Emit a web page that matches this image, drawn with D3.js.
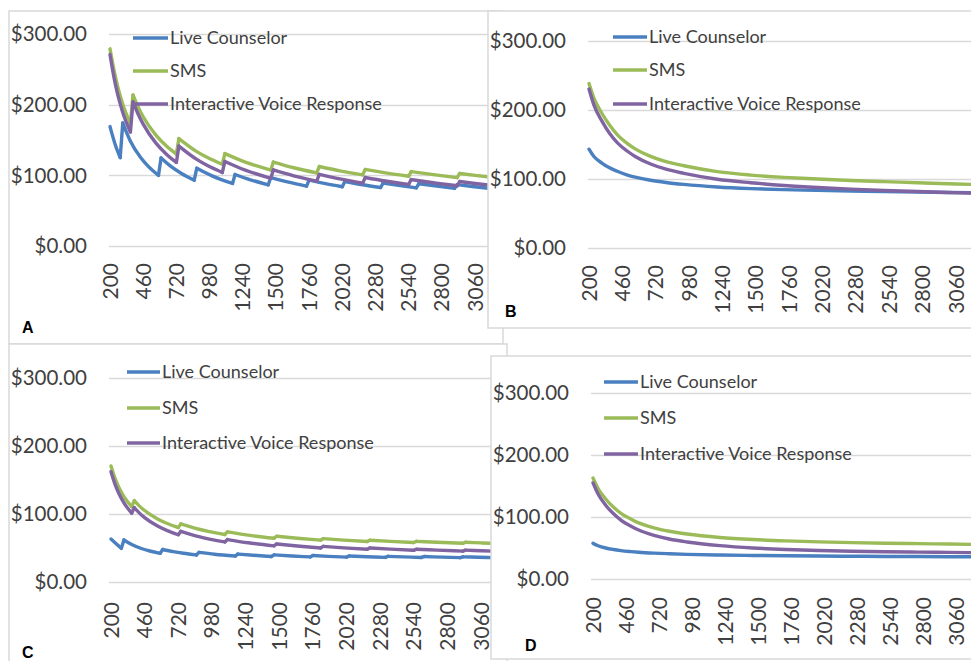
<!DOCTYPE html>
<html>
<head>
<meta charset="utf-8">
<script src="https://cdn.jsdelivr.net/npm/d3@7"></script>
<style>
  body { margin: 0; background: #fff; }
  svg { display: block; font-family: Lato, "Open Sans", sans-serif; }
</style>
</head>
<body>
<svg id="chart" width="971" height="661"></svg>
<script>
// axis ticks
const xTicks = [200, 460, 720, 980, 1240, 1500, 1760, 2020, 2280, 2540, 2800, 3060];
const yTicks = [0, 100, 200, 300];
const seriesNames = ["Live Counselor", "SMS", "Interactive Voice Response"];
const seriesColors = ["#4a7fc0", "#9bbb59", "#8064a2"];

// users (x) for the step charts A and C
const liveStepX = [200, 240, 280, 300, 360, 440, 500, 580, 600, 680, 760, 860, 880, 1000, 1160, 1180, 1300, 1440,
  1460, 1600, 1740, 1760, 1880, 2020, 2040, 2180, 2320, 2340, 2460, 2600, 2620, 2760, 2900, 2920, 3040, 3200];
const otherStepX = [200, 230, 260, 300, 360, 380, 420, 460, 560, 640, 720, 740, 880, 960, 1080, 1100, 1260, 1460,
  1480, 1640, 1820, 1840, 2000, 2180, 2200, 2360, 2540, 2560, 2720, 2920, 2940, 3060, 3200];
// users (x) for the smooth charts B and D
const smoothX = [200, 240, 300, 360, 420, 500, 560, 680, 800, 940, 1200, 1460, 1720, 1980, 2240, 2500, 2760, 3000, 3180];

// A
const aLive = [169, 144, 125, 174, 148.4, 125.2, 112.7, 100, 124.6, 112.3, 102.7, 93.2, 110.1, 99.3, 88.5, 101.2, 93.7, 86.6,
  96.9, 90.3, 84.7, 93.2, 88.6, 83.9, 91.3, 86.7, 82.7, 89.2, 85.9, 82.3, 88.1, 84.7, 81.6, 86.8, 84.2, 81];
const aSms = [279, 250, 225.8, 200.6, 173.3, 213.7, 196.8, 182.9, 156.8, 141.7, 130.1, 152, 133.6, 125.6, 115.7, 130.7, 118.7, 107.5,
  118.8, 110.7, 103.4, 112.5, 106.4, 100.7, 108.3, 103.5, 98.7, 105.3, 101.3, 96.8, 102.6, 100, 97.2];
const aIvr = [271, 239.7, 214.6, 189, 161.3, 204, 186.7, 172.4, 145.6, 130.3, 118.3, 141.4, 122.5, 114.1, 104, 119.7, 107.4, 95.8,
  107.6, 99.3, 91.7, 101.3, 95, 89, 97, 92, 87.1, 94, 89.8, 85.2, 91.2, 88.5, 85.6];

// B
const bLive = [143, 132, 123, 116, 111, 105.5, 102.5, 98, 94.8, 92, 88.3, 86, 84.5, 83.4, 82.5, 81.7, 81, 80.4, 80];
const bSms = [238, 216, 195, 178, 164, 151, 143.5, 132.5, 125, 119, 110.5, 105.5, 102.2, 99.8, 97.6, 96, 94.5, 93, 92];
const bIvr = [230, 206, 184, 166, 152.5, 140, 132.5, 121.5, 114, 108, 99.5, 94.5, 90.5, 87.5, 85.2, 83.3, 81.7, 80.4, 79.5];

// C
const cLive = [63.2, 56.2, 49.5, 61.8, 55, 48.9, 45.6, 42.2, 47.8, 44.7, 42.2, 39.8, 43.6, 40.9, 38.2, 41.1, 39.3, 37.5,
  39.9, 38.3, 36.9, 38.9, 37.7, 36.6, 38.3, 37.2, 36.2, 37.7, 36.9, 36.1, 37.4, 36.6, 35.8, 37, 36.4, 35.6];
const cSms = [170.6, 153, 139.5, 125.7, 110.8, 119.6, 111.6, 105.1, 92.7, 85.6, 80.1, 85.5, 77.6, 74.2, 69.9, 73.7, 68.9, 64.4,
  67.3, 64.3, 61.5, 63.8, 61.6, 59.5, 61.5, 59.8, 58.1, 59.8, 58.4, 56.9, 58.4, 57.5, 56.6];
const cIvr = [162.3, 144.4, 130.6, 116.5, 101.3, 109.3, 101.3, 94.6, 82.2, 75.1, 69.5, 74.5, 66.6, 63.1, 58.9, 62.4, 57.7, 53.2,
  55.9, 52.9, 50.1, 52.4, 50.2, 48.1, 50, 48.3, 46.6, 48.2, 46.9, 45.4, 46.8, 45.9, 45];

// D
const dLive = [57.5, 53.7, 50, 47.6, 45.8, 44.2, 43.2, 41.8, 40.8, 39.8, 38.7, 38, 37.4, 37, 36.7, 36.4, 36.2, 36, 35.9];
const dSms = [163, 146, 129, 116, 106, 96.5, 90.5, 82.5, 77, 72.5, 67, 63.7, 61.5, 59.9, 58.7, 57.7, 57, 56.4, 55.9];
const dIvr = [155, 137, 119, 105.5, 95, 85, 79, 70.5, 64.5, 59.7, 53.8, 50, 47.6, 46, 44.8, 44, 43.4, 42.9, 42.5];

const svg = d3.select("#chart");
const money = d3.format("$.2f");

// panels, in drawing order (B covers the right side of A, D covers C)
const panels = [
  { id: "A", box: [9, 11, 494, 333], x200: 110, x3060: 475, y0: 246, y300: 34, left: 109, labelRight: 87, xLabTop: 263,
    leg: [133, 168, 170, [38, 71, 104]], letter: [22, 333],
    series: [[liveStepX, aLive], [otherStepX, aSms], [otherStepX, aIvr]] },
  { id: "C", box: [9, 344, 498, 330], x200: 111, x3060: 481, y0: 582, y300: 378, left: 109, labelRight: 87, xLabTop: 602,
    leg: [127, 160, 162, [372, 408, 443]], letter: [22, 658],
    series: [[liveStepX, cLive], [otherStepX, cSms], [otherStepX, cIvr]] },
  { id: "B", box: [488, 11, 500, 317], x200: 589, x3060: 956, y0: 248, y300: 40.7, left: 588, labelRight: 566, xLabTop: 265,
    leg: [613, 647, 649, [37, 70, 104]], letter: [505, 317],
    series: [[smoothX, bLive], [smoothX, bSms], [smoothX, bIvr]] },
  { id: "D", box: [491, 356, 500, 303], x200: 593, x3060: 956, y0: 579, y300: 393, left: 591, labelRight: 569, xLabTop: 597,
    leg: [604, 638, 640, [382, 418, 454]], letter: [525, 651],
    series: [[smoothX, dLive], [smoothX, dSms], [smoothX, dIvr]] }
];

// split a series where the cost jumps up (a new staff step)
function runs(xs, ys) {
  let out = [], cur = [];
  xs.forEach((x, i) => {
    if (i > 0 && ys[i] > ys[i - 1]) { out.push(cur); cur = []; }
    cur.push([x, ys[i]]);
  });
  out.push(cur);
  return out;
}

panels.forEach(p => {
  const [bx, by, bw, bh] = p.box;
  svg.append("clipPath").attr("id", "clip" + p.id)
    .append("rect").attr("x", bx).attr("y", by).attr("width", bw).attr("height", bh);

  svg.append("rect")
    .attr("x", bx).attr("y", by).attr("width", bw).attr("height", bh)
    .attr("fill", "#fff").attr("stroke", "#d9d9d9").attr("stroke-width", 1.5);

  const g = svg.append("g").attr("clip-path", "url(#clip" + p.id + ")");

  const x = d3.scaleLinear().domain([200, 3060]).range([p.x200, p.x3060]);
  const y = d3.scaleLinear().domain([0, 300]).range([p.y0, p.y300]);

  // gridlines
  g.selectAll(".grid").data(yTicks).enter().append("line")
    .attr("x1", p.left).attr("x2", bx + bw)
    .attr("y1", d => Math.round(y(d)) + 0.5).attr("y2", d => Math.round(y(d)) + 0.5)
    .attr("stroke", "#d9d9d9").attr("stroke-width", 1.3);

  // y labels
  g.selectAll(".ylab").data(yTicks).enter().append("text")
    .attr("x", p.labelRight).attr("y", d => y(d)).attr("dy", "0.36em")
    .attr("text-anchor", "end").attr("font-size", 20.5).attr("fill", "#404040")
    .text(d => money(d));

  // x labels, rotated
  g.selectAll(".xlab").data(xTicks).enter().append("text")
    .attr("transform", d => "translate(" + x(d) + "," + p.xLabTop + ") rotate(-90)")
    .attr("dy", "0.36em").attr("text-anchor", "end")
    .attr("font-size", 21).attr("fill", "#404040")
    .text(d => d);

  const line = d3.line().x(d => x(d[0])).y(d => y(d[1])).curve(d3.curveMonotoneX);

  p.series.forEach(([xs, ys], i) => {
    const parts = runs(xs, ys);
    parts.forEach((r, j) => {
      g.append("path").attr("d", line(r))
        .attr("fill", "none").attr("stroke", seriesColors[i]).attr("stroke-width", 3.4)
        .attr("stroke-linejoin", "round").attr("stroke-linecap", "round");
      if (j > 0) {
        const a = parts[j - 1][parts[j - 1].length - 1], b = r[0];
        g.append("line")
          .attr("x1", x(a[0])).attr("y1", y(a[1])).attr("x2", x(b[0])).attr("y2", y(b[1]))
          .attr("stroke", seriesColors[i]).attr("stroke-width", 3.4).attr("stroke-linecap", "round");
      }
    });
  });

  // legend
  const [lx1, lx2, tx, rows] = p.leg;
  seriesNames.forEach((name, i) => {
    g.append("line").attr("x1", lx1).attr("x2", lx2).attr("y1", rows[i]).attr("y2", rows[i])
      .attr("stroke", seriesColors[i]).attr("stroke-width", 3.4);
    g.append("text").attr("x", tx).attr("y", rows[i]).attr("dy", "0.36em")
      .attr("font-size", 18).attr("fill", "#404040").text(name);
  });

  // panel letter
  g.append("text").attr("x", p.letter[0]).attr("y", p.letter[1])
    .attr("font-family", "'Liberation Sans', Arial, sans-serif").attr("font-weight", "bold")
    .attr("font-size", 16).attr("fill", "#000").text(p.id);
});
</script>
</body>
</html>
